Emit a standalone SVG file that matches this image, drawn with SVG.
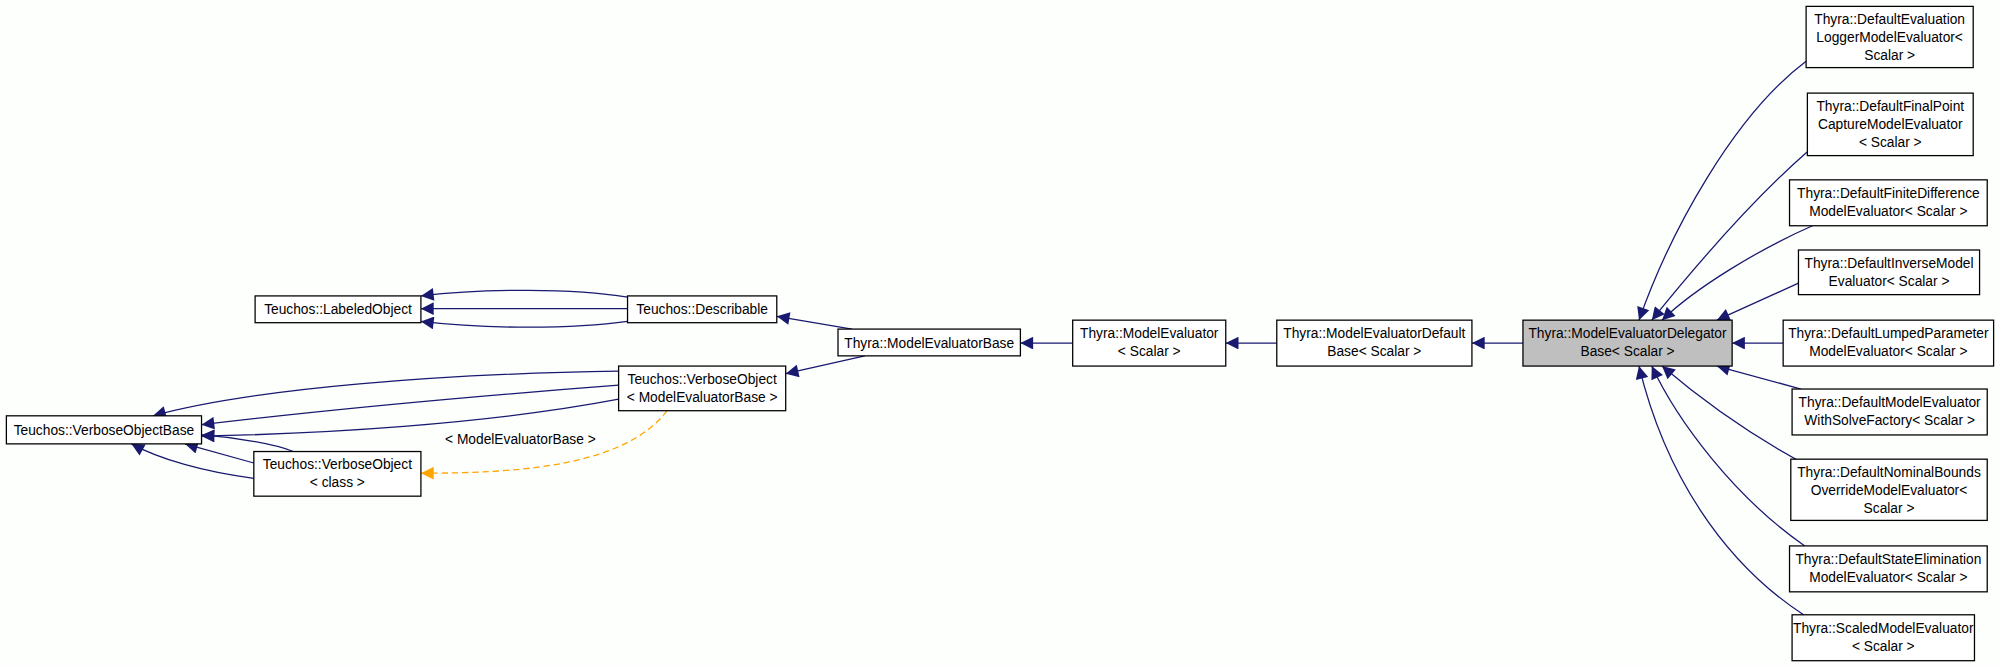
<svg xmlns="http://www.w3.org/2000/svg" width="2000" height="667" viewBox="0 0 2000 667">
<style>
.n rect{fill:#fff;stroke:#000;stroke-width:1}
.n text{font-family:"Liberation Sans",Arial,sans-serif;font-size:10.8px;text-anchor:middle;fill:#000}
.e path{fill:none;stroke:#191970;stroke-width:1}
.d{stroke:#ffa500!important;stroke-dasharray:5,3}
.lbl{font-family:"Liberation Sans",Arial,sans-serif;font-size:10.8px;text-anchor:middle;fill:#000}
</style>
<defs>
<marker id="a" viewBox="0 0 10 10" refX="10" refY="5" markerWidth="12" markerHeight="10" markerUnits="userSpaceOnUse" orient="auto"><path d="M0,0L10,5L0,10z" fill="#191970"/></marker>
<marker id="o" viewBox="0 0 10 10" refX="10" refY="5" markerWidth="12" markerHeight="10" markerUnits="userSpaceOnUse" orient="auto"><path d="M0,0L10,5L0,10z" fill="#ffa500"/></marker>
</defs>
<rect width="2000" height="667" fill="#fdfffd"/>
<g transform="scale(1.2755)">
<g class="e">
<path d="M492,233 C450,226 380,226 330,232" marker-end="url(#a)"/>
<path d="M492,242 L330,242" marker-end="url(#a)"/>
<path d="M492,252 C450,258 380,258 330,252" marker-end="url(#a)"/>
<path d="M668,258 L609,248" marker-end="url(#a)"/>
<path d="M678,279 L616,293" marker-end="url(#a)"/>
<path d="M841,269 L800,269" marker-end="url(#a)"/>
<path d="M1001,269 L961,269" marker-end="url(#a)"/>
<path d="M1194,269 L1154,269" marker-end="url(#a)"/>
<path d="M485,291 C350,293 200,304 120,326" marker-end="url(#a)"/>
<path d="M485,302 C380,310 250,322 158,333" marker-end="url(#a)"/>
<path d="M485,313 C380,333 250,340 158,342" marker-end="url(#a)"/>
<path d="M230,354 C215,348 185,343 158,341" marker-end="url(#a)"/>
<path d="M199,363 L145,348" marker-end="url(#a)"/>
<path d="M199,375 C160,370 125,360 103,348" marker-end="url(#a)"/>
<path class="d" d="M523,322 C490,365 410,371 330,371" marker-end="url(#o)"/>
<path d="M1416,48 C1360,90 1310,180 1285,251" marker-end="url(#a)"/>
<path d="M1417,119 C1370,160 1320,220 1295,251" marker-end="url(#a)"/>
<path d="M1421,177 C1380,195 1330,225 1303,251" marker-end="url(#a)"/>
<path d="M1410,222 L1346,251" marker-end="url(#a)"/>
<path d="M1398,269 L1358,269" marker-end="url(#a)"/>
<path d="M1412,305 L1346,287" marker-end="url(#a)"/>
<path d="M1417,365 C1370,340 1330,310 1303,287" marker-end="url(#a)"/>
<path d="M1415,428 C1360,390 1315,330 1295,287" marker-end="url(#a)"/>
<path d="M1414,482 C1350,440 1305,370 1285,287" marker-end="url(#a)"/>
</g>
<text class="lbl" x="408" y="348">&lt; ModelEvaluatorBase &gt;</text>
<g class="n" id="labeled"><rect x="200" y="232" width="130" height="21"/><text x="265" y="246.5">Teuchos::LabeledObject</text></g>
<g class="n" id="describable"><rect x="492" y="232" width="117" height="21"/><text x="550.5" y="246.5">Teuchos::Describable</text></g>
<g class="n" id="vobase"><rect x="5" y="326" width="153" height="22"/><text x="81.5" y="341">Teuchos::VerboseObjectBase</text></g>
<g class="n" id="vomeb"><rect x="485" y="287" width="131" height="35"/><text x="550.5" y="301">Teuchos::VerboseObject</text><text x="550.5" y="315">&lt; ModelEvaluatorBase &gt;</text></g>
<g class="n" id="voclass"><rect x="199" y="354" width="131" height="35"/><text x="264.5" y="368">Teuchos::VerboseObject</text><text x="264.5" y="382">&lt; class &gt;</text></g>
<g class="n" id="meb"><rect x="657" y="258" width="143" height="21"/><text x="728.5" y="272.5">Thyra::ModelEvaluatorBase</text></g>
<g class="n" id="me"><rect x="841" y="251" width="120" height="36"/><text x="901" y="265">Thyra::ModelEvaluator</text><text x="901" y="279">&lt; Scalar &gt;</text></g>
<g class="n" id="medb"><rect x="1001" y="251" width="153" height="36"/><text x="1077.5" y="265">Thyra::ModelEvaluatorDefault</text><text x="1077.5" y="279">Base&lt; Scalar &gt;</text></g>
<g class="n" id="medel"><rect x="1194" y="251" width="164" height="36" style="fill:#bfbfbf"/><text x="1276" y="265">Thyra::ModelEvaluatorDelegator</text><text x="1276" y="279">Base&lt; Scalar &gt;</text></g>
<g class="n" id="c1"><rect x="1416" y="5" width="131" height="48"/><text x="1481.5" y="19">Thyra::DefaultEvaluation</text><text x="1481.5" y="33">LoggerModelEvaluator&lt;</text><text x="1481.5" y="47"> Scalar &gt;</text></g>
<g class="n" id="c2"><rect x="1417" y="73" width="130" height="49"/><text x="1482" y="87">Thyra::DefaultFinalPoint</text><text x="1482" y="101">CaptureModelEvaluator</text><text x="1482" y="115">&lt; Scalar &gt;</text></g>
<g class="n" id="c3"><rect x="1403" y="141" width="155" height="36"/><text x="1480.5" y="155">Thyra::DefaultFiniteDifference</text><text x="1480.5" y="169">ModelEvaluator&lt; Scalar &gt;</text></g>
<g class="n" id="c4"><rect x="1410" y="196" width="142" height="35"/><text x="1481" y="210">Thyra::DefaultInverseModel</text><text x="1481" y="224">Evaluator&lt; Scalar &gt;</text></g>
<g class="n" id="c5"><rect x="1398" y="251" width="165" height="36"/><text x="1480.5" y="265">Thyra::DefaultLumpedParameter</text><text x="1480.5" y="279">ModelEvaluator&lt; Scalar &gt;</text></g>
<g class="n" id="c6"><rect x="1405" y="305" width="153" height="36"/><text x="1481.5" y="319">Thyra::DefaultModelEvaluator</text><text x="1481.5" y="333">WithSolveFactory&lt; Scalar &gt;</text></g>
<g class="n" id="c7"><rect x="1404" y="360" width="154" height="48"/><text x="1481" y="374">Thyra::DefaultNominalBounds</text><text x="1481" y="388">OverrideModelEvaluator&lt;</text><text x="1481" y="402"> Scalar &gt;</text></g>
<g class="n" id="c8"><rect x="1403" y="428" width="155" height="36"/><text x="1480.5" y="442">Thyra::DefaultStateElimination</text><text x="1480.5" y="456">ModelEvaluator&lt; Scalar &gt;</text></g>
<g class="n" id="c9"><rect x="1405" y="482" width="143" height="36"/><text x="1476.5" y="496">Thyra::ScaledModelEvaluator</text><text x="1476.5" y="510">&lt; Scalar &gt;</text></g>
</g>
</svg>
